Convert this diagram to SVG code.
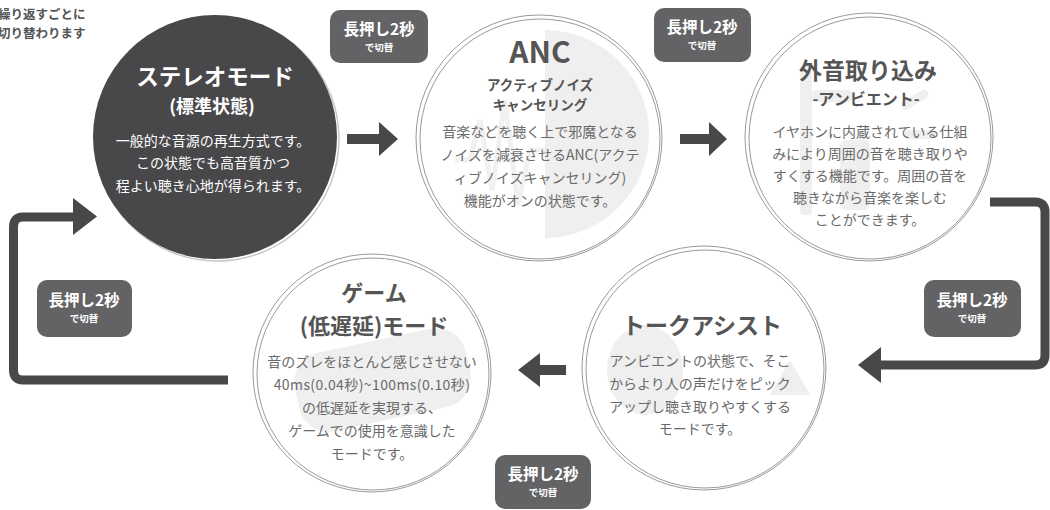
<svg xmlns="http://www.w3.org/2000/svg" width="1050" height="510" viewBox="0 0 1050 510">
<defs>
<style>
text{font-family:"Noto Sans CJK JP","Noto Sans",sans-serif;text-anchor:middle}
.ring{fill:none;stroke:#9a9a9a;stroke-width:1}
.wm{fill:#efefef}
.t{font-weight:700;fill:#555}
.b{font-size:14px;fill:#6a6a6a}
.bw{font-size:14px;fill:#fff}
.badge rect{fill:#636365}
.badge text{fill:#fff;font-weight:700}
.l1{font-size:15.5px}
.l2{font-size:9.5px}
.arr{fill:#48484a}
.loop{fill:none;stroke:#48484a;stroke-width:9}
</style>
</defs>
<rect width="1050" height="510" fill="#fff"/>
<g id="note">
<text x="-2" y="19" style="text-anchor:start;font-size:12.5px;font-weight:700;fill:#555"><tspan x="-2" y="19">繰り返すごとに</tspan><tspan x="-2" y="38">切り替わります</tspan></text>
</g>
<g id="connectors">
<polygon class="arr" points="347,134 379,134 379,122 398,139 379,156 379,144 347,144"/>
<polygon class="arr" points="680,134 709,134 709,122 727,139 709,156 709,144 680,144"/>
<polygon class="arr" points="566,365 540,365 540,353 518,370 540,387 540,375 566,375"/>
<path class="loop" d="M228,380 H23 Q13.5,380 13.5,370 V227 Q13.5,217 23,217 H76"/>
<polygon class="arr" points="73,198 97,216.5 73,235"/>
<path class="loop" d="M990,202 H1035 Q1045,202 1045,212 V355 Q1045,365 1035,365 H878"/>
<polygon class="arr" points="881,347 858,365 881,383"/>
</g>
<g id="stereo">
<circle cx="217" cy="139" r="122" fill="none" stroke="#c8c8c8" stroke-width="1.5"/>
<circle cx="215" cy="137" r="122" fill="#48484a"/>
<text style="font-weight:700;fill:#fff"><tspan x="215" y="85" style="font-size:22.5px">ステレオモード</tspan><tspan x="212" y="113" style="font-size:18px">(標準状態)</tspan></text>
<text class="bw"><tspan x="213" y="146">一般的な音源の再生方式です。</tspan><tspan x="213" y="168">この状態でも高音質かつ</tspan><tspan x="213" y="191">程よい聴き心地が得られます。</tspan></text>
</g>
<g id="anc">
<path class="wm" d="M545,30 A104,104 0 0 1 545,238 Z"/>
<polyline points="455,160 470,160 480,120 492,190 505,100 518,205 530,150 545,150" fill="none" stroke="#f1f1f1" stroke-width="5"/>
<circle class="ring" cx="539" cy="138" r="123"/>
<circle class="ring" cx="540" cy="139" r="120"/>
<text class="t" x="540" y="63" style="font-size:30px">ANC</text>
<text class="t" style="font-size:13.5px"><tspan x="540" y="90">アクティブノイズ</tspan><tspan x="540" y="110">キャンセリング</tspan></text>
<text class="b"><tspan x="540" y="137">音楽などを聴く上で邪魔となる</tspan><tspan x="540" y="160">ノイズを減衰させるANC(アクテ</tspan><tspan x="540" y="183">ィブノイズキャンセリング)</tspan><tspan x="540" y="206">機能がオンの状態です。</tspan></text>
</g>
<g id="ambient">
<rect class="wm" x="800" y="65" width="12" height="150" rx="4"/>
<rect class="wm" x="812" y="90" width="40" height="12" rx="4"/>
<rect class="wm" x="840" y="140" width="30" height="70" rx="6"/>
<rect class="wm" x="900" y="95" width="30" height="9" rx="4" transform="rotate(-30 915 100)"/>
<rect class="wm" x="905" y="130" width="30" height="9" rx="4"/>
<circle class="ring" cx="869" cy="137" r="124"/>
<circle class="ring" cx="870" cy="138" r="121"/>
<text class="t"><tspan x="868" y="79" style="font-size:23px">外音取り込み</tspan><tspan x="866" y="105" style="font-size:16px">-アンビエント-</tspan></text>
<text class="b"><tspan x="870" y="137">イヤホンに内蔵されている仕組</tspan><tspan x="870" y="159">みにより周囲の音を聴き取りや</tspan><tspan x="870" y="181">すくする機能です。周囲の音を</tspan><tspan x="870" y="203">聴きながら音楽を楽しむ</tspan><tspan x="870" y="225">ことができます。</tspan></text>
</g>
<g id="game">
<rect class="wm" x="295" y="340" width="175" height="80" rx="30" transform="rotate(-12 382 380)"/>
<circle class="ring" cx="372" cy="373" r="119"/>
<circle class="ring" cx="373" cy="374" r="116"/>
<text class="t" style="font-size:22px"><tspan x="374" y="301">ゲーム</tspan><tspan x="374" y="334">(低遅延)モード</tspan></text>
<text class="b"><tspan x="372" y="367">音のズレをほとんど感じさせない</tspan><tspan x="372" y="390" style="letter-spacing:0.4px">40ms(0.04秒)~100ms(0.10秒)</tspan><tspan x="372" y="413">の低遅延を実現する、</tspan><tspan x="372" y="436">ゲームでの使用を意識した</tspan><tspan x="372" y="459">モードです。</tspan></text>
</g>
<g id="talk">
<ellipse class="wm" cx="645" cy="370" rx="38" ry="45"/>
<polygon class="wm" points="770,395 810,395 790,360"/>
<circle class="ring" cx="704" cy="368" r="122"/>
<circle class="ring" cx="705" cy="369" r="119"/>
<text class="t" x="702" y="334" style="font-size:23px">トークアシスト</text>
<text class="b"><tspan x="700" y="366">アンビエントの状態で、そこ</tspan><tspan x="700" y="389">からより人の声だけをピック</tspan><tspan x="700" y="412">アップし聴き取りやすくする</tspan><tspan x="700" y="434">モードです。</tspan></text>
</g>
<g id="badge1" class="badge">
<rect x="330" y="10" width="98" height="53" rx="10"/>
<text><tspan class="l1" x="379" y="35">長押し2秒</tspan><tspan class="l2" x="379" y="51">で切替</tspan></text>
</g>
<g id="badge2" class="badge">
<rect x="654" y="8" width="97" height="54" rx="10"/>
<text><tspan class="l1" x="702" y="33">長押し2秒</tspan><tspan class="l2" x="702" y="49">で切替</tspan></text>
</g>
<g id="badge3" class="badge">
<rect x="37" y="280" width="95" height="57" rx="10"/>
<text><tspan class="l1" x="84" y="306">長押し2秒</tspan><tspan class="l2" x="84" y="322">で切替</tspan></text>
</g>
<g id="badge4" class="badge">
<rect x="924" y="280" width="97" height="57" rx="10"/>
<text><tspan class="l1" x="972" y="306">長押し2秒</tspan><tspan class="l2" x="972" y="322">で切替</tspan></text>
</g>
<g id="badge5" class="badge">
<rect x="495" y="455" width="96" height="54" rx="10"/>
<text><tspan class="l1" x="543" y="480">長押し2秒</tspan><tspan class="l2" x="543" y="496">で切替</tspan></text>
</g>
</svg>
